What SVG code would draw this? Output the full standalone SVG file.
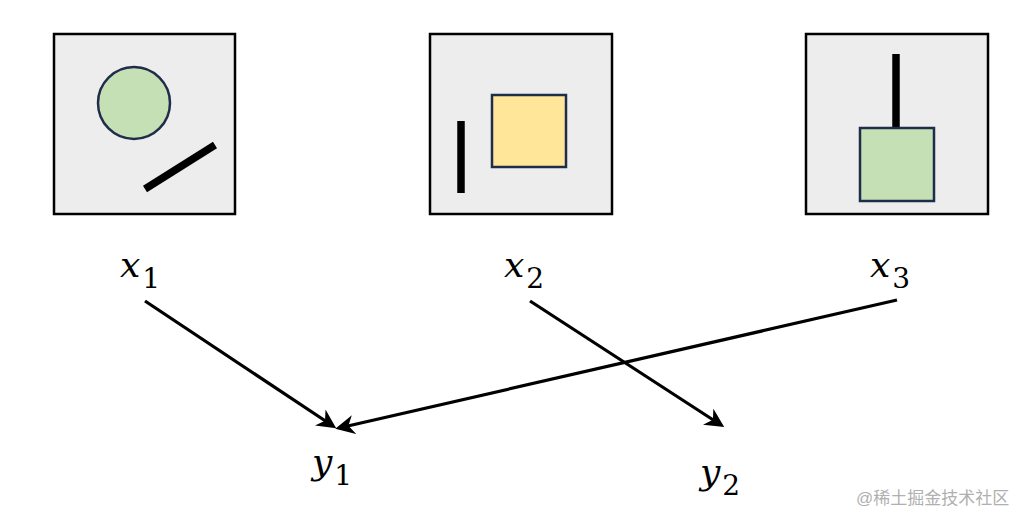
<svg xmlns="http://www.w3.org/2000/svg" width="1034" height="528" viewBox="0 0 1034 528">
<style>
.panel{fill:#ededed;stroke:#000;stroke-width:2.5}
.shape{stroke:#1f2d4a;stroke-width:2.5}
.bar{stroke:#000;stroke-width:7.5;stroke-linecap:butt}
.var{font-family:"DejaVu Serif",serif;font-style:italic;font-size:36px;fill:#000}
.sub{font-family:"DejaVu Serif",serif;font-style:normal;font-size:28px;fill:#000}
.conn{stroke:#000;stroke-width:3.2;fill:none;marker-end:url(#arr)}
.wm{font-family:"Liberation Sans","Noto Sans CJK SC",sans-serif;font-size:17px;fill:#b0b0b0}
</style>
<defs>
<marker id="arr" viewBox="0 0 10 10" refX="8" refY="5" markerWidth="6" markerHeight="6" orient="auto" markerUnits="strokeWidth">
<path d="M0,0 L10,5 L0,10 L3,5 Z" fill="#000"/>
</marker>
</defs>
<rect width="1034" height="528" fill="#fff"/>
<g id="panel1">
<rect class="panel" x="54" y="34" width="181" height="180"/>
<circle class="shape" cx="134" cy="103" r="36" fill="#c5e0b4"/>
<line class="bar" x1="145" y1="189" x2="215" y2="145"/>
</g>
<g id="panel2">
<rect class="panel" x="430" y="34" width="182" height="180"/>
<rect class="shape" x="492" y="95" width="74" height="72" fill="#ffe699"/>
<line class="bar" x1="461" y1="121" x2="461" y2="193"/>
</g>
<g id="panel3">
<rect class="panel" x="806" y="34" width="182" height="180"/>
<line class="bar" x1="896" y1="54" x2="896" y2="128"/>
<rect class="shape" x="860" y="128" width="74" height="73" fill="#c5e0b4"/>
</g>
<g id="x1"><text x="120" y="277"><tspan class="var">x</tspan><tspan class="sub" dx="2" dy="11">1</tspan></text></g>
<g id="x2"><text x="504" y="277"><tspan class="var">x</tspan><tspan class="sub" dx="2" dy="11">2</tspan></text></g>
<g id="x3"><text x="870" y="277"><tspan class="var">x</tspan><tspan class="sub" dx="2" dy="11">3</tspan></text></g>
<g id="y1"><text x="312" y="474"><tspan class="var">y</tspan><tspan class="sub" dx="2" dy="11">1</tspan></text></g>
<g id="y2"><text x="700" y="484"><tspan class="var">y</tspan><tspan class="sub" dx="2" dy="11">2</tspan></text></g>
<g id="connectors">
<line class="conn" x1="145" y1="301" x2="333" y2="426"/>
<line class="conn" x1="530" y1="301" x2="721" y2="425"/>
<line class="conn" x1="897" y1="300" x2="339" y2="428"/>
</g>
<text class="wm" x="856" y="504">@稀土掘金技术社区</text>
</svg>
